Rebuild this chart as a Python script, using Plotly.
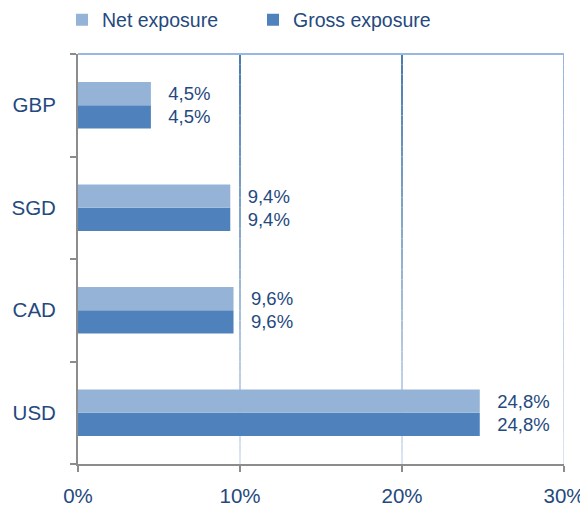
import plotly.graph_objects as go

categories = ["USD", "CAD", "SGD", "GBP"]
net_exposure = [0.248, 0.096, 0.094, 0.045]
gross_exposure = [0.248, 0.096, 0.094, 0.045]
x_ticks = [0, 0.1, 0.2, 0.3]
x_tick_labels = ["0%", "10%", "20%", "30%"]

TEXT = "#24497E"
FONT = "Liberation Sans, Arial, sans-serif"
LABEL_FMT = "\u2002 %{x:.1%}"

fig = go.Figure()
fig.add_trace(go.Bar(
    y=categories, x=gross_exposure, orientation="h", name="Gross exposure",
    marker=dict(color="#4F81BD", line=dict(width=0)),
    texttemplate=LABEL_FMT, textposition="outside", cliponaxis=False,
    textfont=dict(color=TEXT, size=18.5, family=FONT), legendrank=2,
))
fig.add_trace(go.Bar(
    y=categories, x=net_exposure, orientation="h", name="Net exposure",
    marker=dict(color="#95B3D7", line=dict(width=0)),
    texttemplate=LABEL_FMT, textposition="outside", cliponaxis=False,
    textfont=dict(color=TEXT, size=18.5, family=FONT), legendrank=1,
))

# gradient gridlines
def lerp(c1, c2, t):
    return "#%02x%02x%02x" % tuple(int(round(a + (b - a) * t)) for a, b in zip(c1, c2))

shapes = []
N = 40
top_c = (0x4A, 0x7C, 0xAE)
bot_c = (0xDA, 0xE4, 0xF3)
for xv in x_ticks[1:-1]:
    for i in range(N):
        y1 = 1 - i / N
        y0 = 1 - (i + 1) / N
        shapes.append(dict(type="line", xref="x", yref="paper", x0=xv, x1=xv, y0=y0, y1=y1,
                           line=dict(color=lerp(top_c, bot_c, i / (N - 1)), width=2), layer="below"))
for i in range(N):
    y1 = 1 - i / N
    y0 = 1 - (i + 1) / N
    shapes.append(dict(type="line", xref="x", yref="paper", x0=x_ticks[-1], x1=x_ticks[-1], y0=y0, y1=y1,
                       line=dict(color=lerp((0x95, 0xB3, 0xE0), (0xD6, 0xE2, 0xF3), i / (N - 1)), width=2),
                       layer="below"))
shapes.append(dict(type="line", xref="x", yref="paper", x0=x_ticks[0], x1=x_ticks[-1], y0=1, y1=1,
                   line=dict(color="#9AB7E0", width=2), layer="below"))

fig.update_layout(
    width=588, height=508,
    margin=dict(l=70, r=32, t=46, b=52),
    paper_bgcolor="white", plot_bgcolor="white",
    barmode="group", bargap=0.545, bargroupgap=0,
    separators=",.",
    font=dict(family=FONT, color=TEXT, size=20),
    showlegend=True,
    legend=dict(orientation="h", x=54 / 588, xanchor="left", xref="container",
                y=1 - 12 / 508, yanchor="middle", yref="container",
                font=dict(size=19.5, color=TEXT, family=FONT),
                itemwidth=30, entrywidthmode="pixels", entrywidth=146,
                bgcolor="rgba(0,0,0,0)"),
    shapes=shapes,
    xaxis=dict(range=[0, 0.3], tickvals=x_ticks, ticktext=x_tick_labels, showgrid=False,
               zeroline=False, showline=True, linecolor="#8C8C8C", linewidth=2,
               ticks="outside", ticklen=6, tickcolor="#8C8C8C", tickwidth=2, automargin=False,
               ticklabelstandoff=6, tickfont=dict(size=20.5, color=TEXT, family=FONT)),
    yaxis=dict(categoryorder="array", categoryarray=categories, showgrid=False,
               showline=True, linecolor="#8C8C8C", linewidth=2, zeroline=False, automargin=False,
               ticks="outside", tickson="boundaries", ticklen=6, tickcolor="#8C8C8C", tickwidth=2,
               ticklabelstandoff=16, tickfont=dict(size=20.5, color=TEXT, family=FONT)),
)

fig.write_html("out.html")
